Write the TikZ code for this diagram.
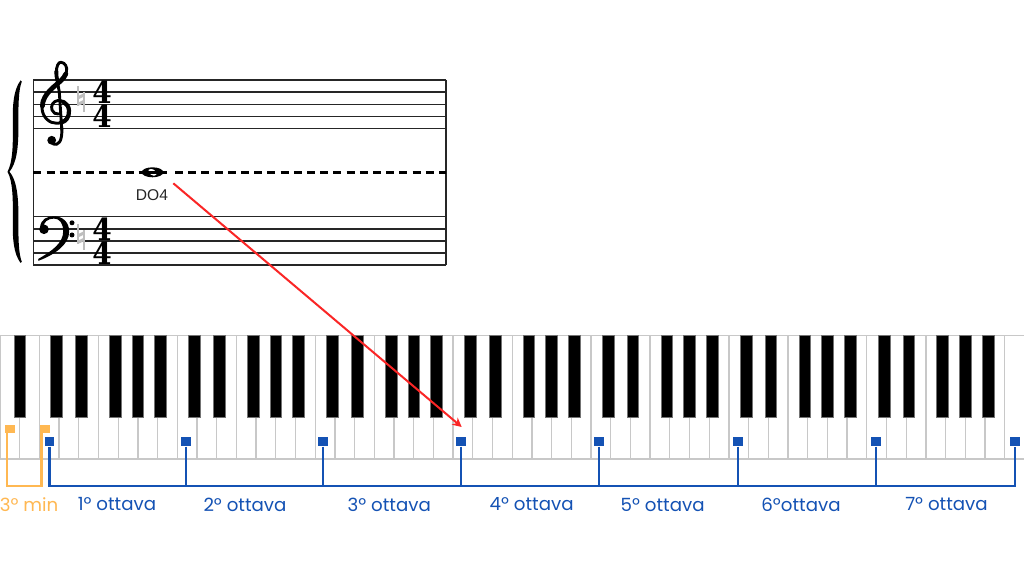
\documentclass[tikz,border=0pt]{standalone}
\usepackage{fontspec}
\newfontfamily\pop{Poppins}
\newfontfamily\lib{Liberation Sans}
\newfontfamily\dvs{DejaVu Serif}
\usetikzlibrary{arrows.meta}
\definecolor{kblue}{RGB}{20,82,180}
\definecolor{korange}{RGB}{255,184,82}
\definecolor{kred}{RGB}{250,38,38}
\definecolor{kgray}{RGB}{200,200,200}
\definecolor{natgray}{RGB}{190,190,190}
\newcommand{\tsfour}{\scalebox{0.92}[1]{4}}
\begin{document}
\begin{tikzpicture}[x=0.5pt,y=-0.5pt,
  staffline/.style={line width=0.8pt,black!85},
  clefline/.style={line width=1.45pt,line cap=round,line join=round},
  natline/.style={natgray,line width=0.75pt},
  natbar/.style={natgray,line width=1.5pt},
  tsig/.style={inner sep=0pt,align=center,font=\dvs\bfseries\fontsize{15.2}{12.15}\selectfont},
  wkline/.style={kgray,line width=0.65pt},
  bkey/.style={fill=black,draw=black!55,line width=0.35pt},
  bsq/.style={rectangle,fill=kblue,draw=none,minimum size=4.85pt,inner sep=0pt},
  osq/.style={rectangle,fill=korange,draw=none,minimum width=4.9pt,minimum height=4.2pt,inner sep=0pt},
  bline/.style={kblue,line width=1.15pt},
  oline/.style={korange,line width=1.15pt},
  blab/.style={text=kblue,inner sep=0pt,font=\pop\fontsize{9.1}{9.1}\selectfont},
  olab/.style={text=korange,inner sep=0pt,font=\pop\fontsize{9.1}{9.1}\selectfont},
  redarrow/.style={kred,line width=1pt,-{Stealth[length=4.6pt,width=4.6pt]}}
]
\useasboundingbox (0,0) rectangle (1024,576);
\fill[white] (0,0) rectangle (1024,576);

% ---------- grand staff ----------
\foreach \k in {0,...,4}{
  \draw[staffline] (33.3,{80+12.17*\k}) -- (446,{80+12.17*\k});
  \draw[staffline] (33.3,{216.7+12.15*\k}) -- (446,{216.7+12.15*\k});
}
\draw[staffline] (33.3,80) -- (33.3,265.3);
\draw[staffline] (446,80) -- (446,265.3);

% brace
\fill[black] (20.5,80.5) .. controls (13.5,90) and (12.5,105) .. (12.8,122)
  .. controls (13.1,145) and (12.8,162) .. (7.5,171.7)
  .. controls (12.8,181.4) and (13.1,198.4) .. (12.8,221.4)
  .. controls (12.5,238.4) and (13.5,253.4) .. (20.5,262.9)
  -- (21.8,261.8) .. controls (18.5,253.4) and (18.3,238.4) .. (18.4,218.4)
  .. controls (18.6,195.4) and (16.5,180) .. (9.5,171.7)
  .. controls (16.5,163.4) and (18.6,148) .. (18.4,125)
  .. controls (18.3,105) and (18.5,90) .. (21.8,81.6) -- cycle;

% treble clef
\draw[clefline] (61.8,130) -- (59.3,92) .. controls (58.3,85) and (56.3,80) .. (56.3,73)
  .. controls (56.3,66) and (58.5,62) .. (61,62.3)
  .. controls (65,62.5) and (67.5,67) .. (66.5,71.5)
  .. controls (65.5,77) and (59.5,82) .. (53,87.5)
  .. controls (46,94) and (41.5,100) .. (42,108)
  .. controls (42.5,118) and (50,123.5) .. (57,123.3)
  .. controls (64.5,123) and (69.5,117) .. (69,110.5)
  .. controls (68.5,104) and (63,100) .. (58,100.5)
  .. controls (53,101) and (50.5,106) .. (52,110)
  .. controls (53,113) and (56,114.5) .. (58.5,114);
\draw[clefline,line width=2.4pt] (65.8,74) .. controls (64,78.5) and (59.5,82) .. (53,87.5)
  .. controls (46,94) and (42.3,100) .. (42.4,106);
\draw[clefline,line width=2.1pt] (61,122.6) .. controls (66,121.5) and (69.3,117) .. (69,110.5)
  .. controls (68.8,106.5) and (66.5,103.5) .. (63.5,102);
\draw[clefline,line width=1.9pt] (57.2,80) .. controls (56.5,77) and (56.3,75) .. (56.4,71);
\draw[clefline] (61.8,128) .. controls (62.5,142) and (58,146) .. (53,144);
\fill (51.7,140.3) circle [radius=4.4];

% bass clef
\fill (40,228) .. controls (40.5,219) and (47,216.3) .. (54,216.3)
  .. controls (63.5,216.3) and (69.2,223) .. (69.2,231.5)
  .. controls (69.2,244.5) and (55,254.5) .. (38.5,260.8)
  -- (38.2,259) .. controls (52,251) and (63.2,243) .. (63.2,231.5)
  .. controls (63.2,223) and (59.5,218.6) .. (54,218.6)
  .. controls (48,218.6) and (43,222) .. (43.5,228) -- cycle;
\fill (44,229.3) circle [radius=4.8];
\fill (72,222.8) circle [radius=2.5];
\fill (72,235) circle [radius=2.5];

% naturals (faint)
\foreach \dy in {0,138}{
  \draw[natline] (78,{86.5+\dy}) -- (78,{106+\dy});
  \draw[natline] (83.8,{92+\dy}) -- (83.8,{112+\dy});
  \draw[natbar] (78,{97.8+\dy}) -- (83.8,{95+\dy});
  \draw[natbar] (78,{104.3+\dy}) -- (83.8,{101.5+\dy});
}

% time signatures
\node[tsig] (tst) at (102,104.4) {\tsfour\\\tsfour};
\node[tsig] (tsb) at (102,241) {\tsfour\\\tsfour};

% middle C line and note
\draw[line width=1.25pt,dash pattern=on 4pt off 2.6pt] (33.3,172.3) -- (135,172.3);
\draw[line width=1.25pt,dash pattern=on 4pt off 2.6pt] (175,172.3) -- (446,172.3);
\fill[even odd rule] (152.5,172.3) ellipse [x radius=10.8, y radius=5]
  (152.5,172.3) ellipse [x radius=4.6, y radius=3, rotate=-35];
\draw[line width=1.25pt] (138.5,172.3) -- (166.5,172.3);
\node[font=\lib\fontsize{7.8}{7.8}\selectfont,text=black!85,inner sep=0pt] (do4) at (152,195) {DO4};

% ---------- keyboard ----------
\foreach \j in {1,...,51}{
  \draw[wkline] ({\j*19.7},335.7) -- ({\j*19.7},459);
}
\draw[wkline] (0,335.7) -- (1024,335.7);
\draw[wkline] (0,459) -- (1024,459);
\draw[wkline] (0.6,335.7) -- (0.6,459);
\filldraw[bkey] ({19.7-5.85},335.7) rectangle ++(11.7,81.3);
\foreach \k in {0,...,6}{
  \foreach \b/\o in {3/-2.5,4/2.5,6/-3,7/0,8/3}{
    \filldraw[bkey] ({(\b+7*\k)*19.7+\o-5.85},335.7) rectangle ++(11.7,81.3);
  }
}

% octave markers
\node[bsq] (c1) at (49.5,441.5) {};
\node[bsq] (c2) at (185.8,441.5) {};
\node[bsq] (c3) at (323,441.5) {};
\node[bsq] (c4) at (461,441.5) {};
\node[bsq] (c5) at (599,441.5) {};
\node[bsq] (c6) at (737.7,441.5) {};
\node[bsq] (c7) at (876.3,441.5) {};
\node[bsq] (c8) at (1015,441.5) {};
\coordinate (b1) at (49.5,486);
\coordinate (b2) at (185.8,486);
\coordinate (b3) at (323,486);
\coordinate (b4) at (461,486);
\coordinate (b5) at (599,486);
\coordinate (b6) at (737.7,486);
\coordinate (b7) at (876.3,486);
\coordinate (b8) at (1015,486);
\draw[bline] (c1.south) -- (b1) -- (b8) -- (c8.south);
\foreach \n in {2,...,7}{ \draw[bline] (c\n.south) -- (b\n); }

\node[osq] (o1) at (10,429) {};
\node[osq] (o2) at (44.8,429) {};
\coordinate (ot1) at (6.8,431);
\coordinate (ot2) at (41.6,431);
\coordinate (ob1) at (6.8,486);
\coordinate (ob2) at (41.6,486);
\draw[oline] (ot1) -- (ob1) -- (ob2) -- (ot2);

% labels
\node[olab] (l0) at (29,504.5) {3º min};
\node[blab] (l1) at (117,504.5) {1º ottava};
\node[blab] (l2) at (245,504.5) {2º ottava};
\node[blab] (l3) at (389.3,504.5) {3º ottava};
\node[blab] (l4) at (531.7,504.5) {4º ottava};
\node[blab] (l5) at (662.7,504.5) {5º ottava};
\node[blab] (l6) at (801,504.5) {6ºottava};
\node[blab] (l7) at (946.5,504.5) {7º ottava};

% red arrow
\coordinate (as) at (173.3,183.3);
\coordinate (ae) at (461.7,427);
\draw[redarrow] (as) -- (ae);
\end{tikzpicture}
\end{document}
